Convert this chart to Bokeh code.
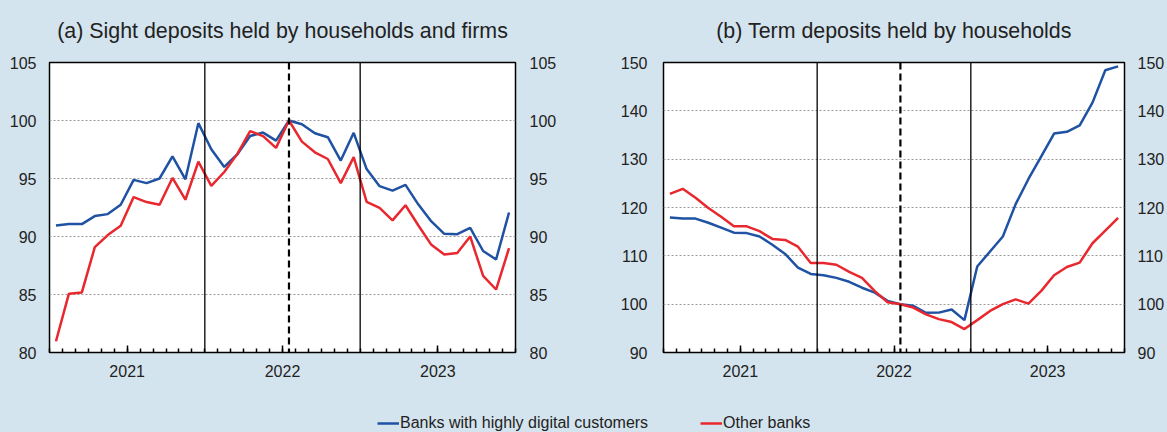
from bokeh.plotting import figure
from bokeh.models import Range1d, FixedTicker, LinearAxis, Span, Legend, LegendItem, ColumnDataSource
from bokeh.layouts import column, row
from bokeh.embed import file_html
from bokeh.resources import INLINE

# ---------------- data ----------------
months = [f"{y}-{m:02d}" for y in (2021, 2022, 2023) for m in range(1, 13)]
year_labels = ["2021", "2022", "2023"]
year_starts = [12, 24]          # Jan 2022, Jan 2023 (month index)
base_month = 18                 # Jul 2022 = 100

title_a = "(a) Sight deposits held by households and firms"
title_b = "(b) Term deposits held by households"
series_names = ["Banks with highly digital customers", "Other banks"]

sight_digital = [90.95, 91.07, 91.07, 91.76, 91.93, 92.74, 94.88, 94.6, 95.0, 96.9, 94.93, 99.77,
                 97.52, 96.0, 97.07, 98.67, 98.96, 98.27, 100.0, 99.68, 98.9, 98.56, 96.55, 98.94,
                 95.81, 94.34, 93.96, 94.45, 92.75, 91.3, 90.23, 90.2, 90.75, 88.75, 88.02, 92.07]
sight_other = [80.97, 85.07, 85.18, 89.08, 90.12, 90.92, 93.4, 92.97, 92.74, 95.05, 93.17, 96.45,
               94.36, 95.56, 97.1, 99.08, 98.65, 97.64, 100.0, 98.18, 97.26, 96.68, 94.6, 96.84,
               92.98, 92.46, 91.39, 92.69, 90.95, 89.28, 88.44, 88.58, 90.0, 86.6, 85.43, 88.99]
term_digital = [117.93, 117.7, 117.7, 116.85, 115.85, 114.8, 114.7, 114.0, 112.3, 110.4, 107.56, 106.26,
                105.99, 105.44, 104.63, 103.4, 102.38, 100.68, 100.0, 99.66, 98.2, 98.25, 98.9, 96.7,
                107.8, 110.9, 114.0, 120.7, 125.9, 130.6, 135.3, 135.66, 137.0, 141.7, 148.4, 149.2]
term_other = [122.83, 123.86, 122.0, 119.9, 118.1, 116.1, 116.1, 115.1, 113.5, 113.3, 111.9, 108.5,
              108.5, 108.16, 106.67, 105.44, 102.7, 100.4, 100.0, 99.3, 97.9, 96.9, 96.3, 94.85,
              96.7, 98.6, 100.0, 101.0, 100.1, 102.75, 105.98, 107.7, 108.6, 112.6, 115.2, 117.87]

sight_ticks = [80, 85, 90, 95, 100, 105]
term_ticks = [90, 100, 110, 120, 130, 140, 150]

# ---------------- style ----------------
BG = "#d4e4ee"
BLUE = "#1f52a3"
RED = "#e8282e"
TXT = "#222222"
FONT = "Liberation Sans"

x_pos = [i + 0.5 for i in range(len(months))]
year_tick_pos = [year_starts[0] - 6 + 12 * k for k in range(len(year_labels))]


def panel(title, digital, other, yticks, width, mb_left, mb_right, left_standoff, right_standoff):
    p = figure(width=width, height=390, x_range=Range1d(0, len(months)),
               y_range=Range1d(yticks[0], yticks[-1]), output_backend="svg",
               toolbar_location=None, title=title,
               min_border_left=mb_left, min_border_right=mb_right,
               min_border_top=62, min_border_bottom=38,
               background_fill_color="white", border_fill_color=BG,
               styles={"background-color": BG})
    p.title.align = "center"
    p.title.vertical_align = "top"
    p.title.text_line_height = 0.7
    p.title.text_font = FONT
    p.title.text_font_size = "21.4px"
    p.title.text_font_style = "normal"
    p.title.text_color = TXT
    p.title.standoff = 36
    p.outline_line_color = "black"
    p.outline_line_width = 1.5
    p.outline_line_alpha = 1

    src = ColumnDataSource(dict(x=x_pos, d=digital, o=other))
    p.line("x", "d", source=src, line_color=BLUE, line_width=2.5)
    p.line("x", "o", source=src, line_color=RED, line_width=2.5)

    for ys in year_starts:
        p.add_layout(Span(location=ys, dimension="height", line_color="black", line_width=1.3))
    p.add_layout(Span(location=base_month + 0.5, dimension="height", line_color="black",
                      line_width=2.2, line_dash="7 4"))

    xa = p.xaxis[0]
    xa.ticker = FixedTicker(ticks=year_tick_pos, minor_ticks=list(range(len(months) + 1)))
    xa.major_label_overrides = {t: l for t, l in zip(year_tick_pos, year_labels)}
    xa.major_tick_in = 7
    xa.major_tick_out = 0
    xa.minor_tick_in = 4
    xa.minor_tick_out = 0
    xa.major_tick_line_width = 1.5
    xa.minor_tick_line_width = 1.5
    xa.axis_line_color = None
    xa.major_label_standoff = 12
    xa.major_label_text_font = FONT
    xa.major_label_text_font_size = "16px"
    xa.major_label_text_color = TXT

    ya = p.yaxis[0]
    ra = LinearAxis()
    p.add_layout(ra, "right")
    for ax, so in ((ya, left_standoff), (ra, right_standoff)):
        ax.ticker = FixedTicker(ticks=yticks, minor_ticks=[])
        ax.major_tick_in = 0
        ax.major_tick_out = 0
        ax.minor_tick_in = 0
        ax.minor_tick_out = 0
        ax.axis_line_color = None
        ax.major_label_standoff = so
        ax.major_label_text_font = FONT
        ax.major_label_text_font_size = "16px"
        ax.major_label_text_color = TXT

    p.xgrid.visible = False
    p.ygrid.ticker = FixedTicker(ticks=yticks)
    p.ygrid.grid_line_color = "#999999"
    p.ygrid.grid_line_dash = "2 2"
    p.ygrid.grid_line_width = 1
    return p


p1 = panel(title_a, sight_digital, sight_other, sight_ticks, 590, 49, 75, 13, 14)
p2 = panel(title_b, term_digital, term_other, term_ticks, 577, 73, 40, 16, 13)

# ---------------- legend strip ----------------
lf = figure(width=1167, height=42, x_range=Range1d(0, 1), y_range=Range1d(0, 1),
            x_axis_type=None, y_axis_type=None, output_backend="svg", toolbar_location=None,
            min_border=0, outline_line_color=None,
            background_fill_color=BG, border_fill_color=BG,
            styles={"background-color": BG})
lf.grid.visible = False
hidden = ColumnDataSource(dict(x=[-5, -4], y=[-5, -5]))
r1 = lf.line("x", "y", source=hidden, line_color=BLUE, line_width=2.5)
r2 = lf.line("x", "y", source=hidden, line_color=RED, line_width=2.5)
leg = Legend(items=[LegendItem(label=series_names[0], renderers=[r1]),
                    LegendItem(label=series_names[1], renderers=[r2])],
             orientation="horizontal", location=(377, 0), glyph_width=22, glyph_height=16,
             label_height=16, label_standoff=1, spacing=52, padding=0, margin=0,
             border_line_color=None, background_fill_alpha=0,
             label_text_font=FONT, label_text_font_size="16px", label_text_color=TXT)
lf.add_layout(leg)

layout = column(row(p1, p2, styles={"background-color": BG}), lf,
                styles={"background-color": BG})
open("out.html", "w").write(file_html(layout, INLINE))
